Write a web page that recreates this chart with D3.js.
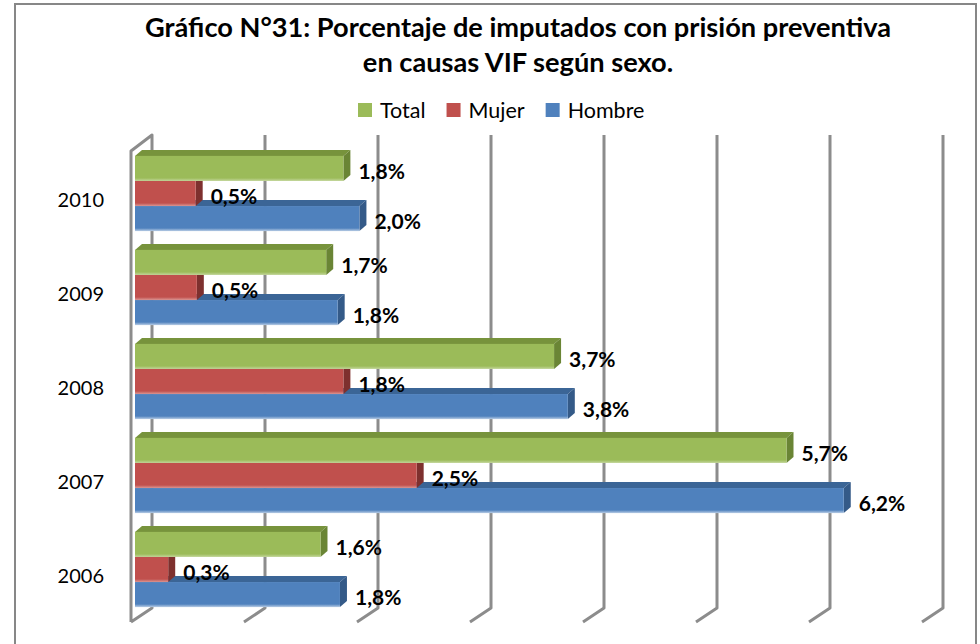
<!DOCTYPE html>
<html>
<head>
<meta charset="utf-8">
<script src="https://cdn.jsdelivr.net/npm/d3@7"></script>
<style>
  body { margin: 0; background: #fff; }
  text { font-family: Lato, "Open Sans", sans-serif; }
</style>
</head>
<body>
<script>
var years = ['2010', '2009', '2008', '2007', '2006'];
var seriesNames = ['Total', 'Mujer', 'Hombre'];
var totalValues = [1.82, 1.67, 3.66, 5.69, 1.62];
var mujerValues = [0.53, 0.54, 1.82, 2.46, 0.29];
var hombreValues = [1.96, 1.77, 3.78, 6.19, 1.79];
var gridTicks = [0, 1, 2, 3, 4, 5, 6, 7];
var titleLines = ['Gráfico N°31: Porcentaje de imputados con prisión preventiva',
                  'en causas VIF según sexo.'];

var w = 980,
    h = 644;

var colors = {
  Total:  { front: '#9BBB59', top: '#77933C', side: '#6A8535', light: '#C3D69B' },
  Mujer:  { front: '#C0504D', top: '#8E3B39', side: '#7E302E', light: '#DA9694' },
  Hombre: { front: '#4F81BD', top: '#3B6596', side: '#345A88', light: '#B9CDE5' }
};

// depth of the bars and of the walls
var barDx = 7, barDy = 6;
var wallDx = -21, wallDy = 14;

var svg = d3.select('body')
  .append('svg')
  .attr('width', w)
  .attr('height', h);

// outer frame
svg.append('rect')
  .attr('x', 15)
  .attr('y', 4)
  .attr('width', 961)
  .attr('height', 680)
  .attr('fill', '#fff')
  .attr('stroke', '#878787')
  .attr('stroke-width', 2);

// title
svg.append('g')
  .selectAll('text')
  .data(titleLines)
  .enter()
  .append('text')
  .attr('x', 518)
  .attr('y', function(d, i) { return 37 + i * 35; })
  .attr('text-anchor', 'middle')
  .attr('font-size', 27.2)
  .attr('font-weight', 'bold')
  .attr('fill', '#000')
  .text(function(d) { return d; });

// rows of data
var rows = years.map(function(y, i) {
    return {
        year: y,
        Total: totalValues[i],
        Mujer: mujerValues[i],
        Hombre: hombreValues[i]
    };
});

// scales
var gx = d3.scaleLinear().domain([0, 7]).range([152, 943]);   // back wall gridlines
var x = d3.scaleLinear().domain([0, 7]).range([135, 936.5]);  // bar front faces
var y0 = d3.scaleBand()
  .domain(years)
  .range([146.5, 616.5])
  .paddingInner(0.2)
  .paddingOuter(0.1);
var y1 = d3.scaleBand()
  .domain(seriesNames)
  .range([0, y0.bandwidth()]);

var wallTop = 135, wallBottom = 608;

// gridlines (3d walls)
var grid = svg.append('g')
  .attr('fill', 'none')
  .attr('stroke', '#8C8C8C')
  .attr('stroke-width', 3)
  .attr('stroke-linejoin', 'round');

grid.selectAll('path.grid')
  .data(gridTicks)
  .enter()
  .append('path')
  .attr('class', 'grid')
  .attr('d', function(v) {
      var xb = gx(v);
      var p = d3.path();
      if (v === 0) {
          // left wall edge
          p.moveTo(xb + wallDx, wallBottom + wallDy);
          p.lineTo(xb + wallDx, wallTop + 16);
          p.lineTo(xb, wallTop);
          p.lineTo(xb, wallBottom);
          p.lineTo(xb + wallDx, wallBottom + wallDy);
      } else {
          p.moveTo(xb, wallTop);
          p.lineTo(xb, wallBottom);
          p.lineTo(xb + wallDx, wallBottom + wallDy);
      }
      return p.toString();
  });

// gradient for the light bottom edge of the bars
var defs = svg.append('defs');
seriesNames.forEach(function(s) {
    var g = defs.append('linearGradient')
      .attr('id', 'grad-' + s)
      .attr('x1', 0).attr('y1', 0)
      .attr('x2', 0).attr('y2', 1);
    g.append('stop').attr('offset', '0%').attr('stop-color', colors[s].front);
    g.append('stop').attr('offset', '88%').attr('stop-color', colors[s].front);
    g.append('stop').attr('offset', '100%').attr('stop-color', colors[s].light);
});

// bars: bottom series first so each front face covers the top face below it
var drawOrder = seriesNames.slice().reverse();

var groups = svg.append('g')
  .selectAll('g.year')
  .data(rows)
  .enter()
  .append('g')
  .attr('class', 'year')
  .attr('transform', function(d) { return 'translate(0,' + y0(d.year) + ')'; });

drawOrder.forEach(function(s) {
    var bh = y1.bandwidth();
    var bar = groups.append('g');

    // top face
    bar.append('path')
      .attr('fill', colors[s].top)
      .attr('d', function(d) {
          var yt = y1(s), xa = x(0), xe = x(d[s]);
          return 'M' + xa + ',' + yt + 'L' + (xa + barDx) + ',' + (yt - barDy) +
                 'L' + (xe + barDx) + ',' + (yt - barDy) + 'L' + xe + ',' + yt + 'Z';
      });

    // side face
    bar.append('path')
      .attr('fill', colors[s].side)
      .attr('d', function(d) {
          var yt = y1(s), xe = x(d[s]);
          return 'M' + xe + ',' + yt + 'L' + (xe + barDx) + ',' + (yt - barDy) +
                 'L' + (xe + barDx) + ',' + (yt + bh - barDy) + 'L' + xe + ',' + (yt + bh) + 'Z';
      });

    // front face
    bar.append('rect')
      .attr('x', x(0))
      .attr('y', y1(s))
      .attr('width', function(d) { return x(d[s]) - x(0); })
      .attr('height', bh)
      .attr('fill', 'url(#grad-' + s + ')');
});

// data labels
function fmt(v) {
    return v.toFixed(1).replace('.', ',') + '%';
}

seriesNames.forEach(function(s) {
    groups.append('text')
      .attr('x', function(d) { return x(d[s]) + 15; })
      .attr('y', y1(s) + y1.bandwidth() / 2 + 3)
      .attr('dy', '0.35em')
      .attr('font-size', 21)
      .attr('font-weight', 'bold')
      .attr('fill', '#000')
      .text(function(d) { return fmt(d[s]); });
});

// category labels
svg.append('g')
  .selectAll('text')
  .data(years)
  .enter()
  .append('text')
  .attr('x', 104)
  .attr('y', function(d) { return y0(d) + y0.bandwidth() / 2 + 6; })
  .attr('dy', '0.35em')
  .attr('text-anchor', 'end')
  .attr('font-size', 20)
  .attr('fill', '#000')
  .text(function(d) { return d; });

// legend
var legend = svg.append('g');
var lx = 358;
seriesNames.forEach(function(s) {
    legend.append('rect')
      .attr('x', lx)
      .attr('y', 103)
      .attr('width', 14)
      .attr('height', 14)
      .attr('fill', colors[s].front);
    var t = legend.append('text')
      .attr('x', lx + 22)
      .attr('y', 110)
      .attr('dy', '0.35em')
      .attr('font-size', 21.5)
      .attr('fill', '#000')
      .text(s);
    lx += 22 + t.node().getComputedTextLength() + 21;
});
</script>
</body>
</html>
